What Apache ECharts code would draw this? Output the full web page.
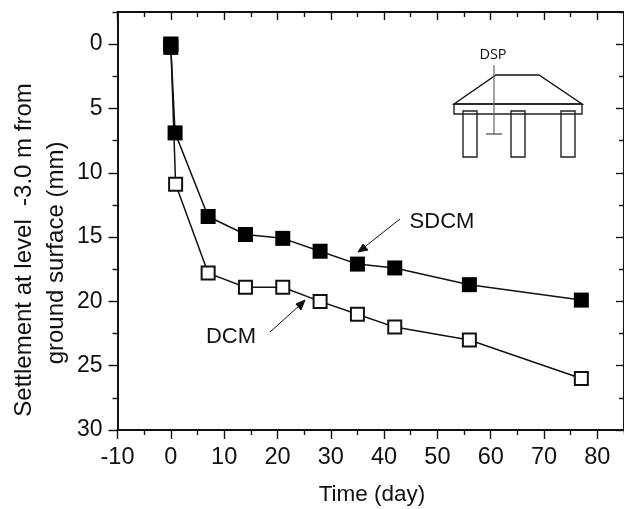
<!DOCTYPE html>
<html><head><meta charset="utf-8">
<style>html,body{margin:0;padding:0;background:#fff}#c{width:624px;height:509px}</style>
<script src="https://cdn.jsdelivr.net/npm/echarts@6/dist/echarts.min.js"></script>
</head><body><div id="c"></div>
<script>
const sdcmTime = [0, 0, 0.8, 7, 14, 21, 28, 35, 42, 56, 77];
const sdcmSettlement = [0, 0.25, 6.9, 13.4, 14.8, 15.1, 16.1, 17.1, 17.4, 18.7, 19.9];
const dcmTime = [0, 0.9, 7, 14, 21, 28, 35, 42, 56, 77];
const dcmSettlement = [0, 10.9, 17.8, 18.9, 18.9, 20, 21, 22, 23, 26];
const xMajorTicks = [-10, 0, 10, 20, 30, 40, 50, 60, 70, 80];
const xMinorTicks = [-5, 5, 15, 25, 35, 45, 55, 65, 75, 85];
const yMajorTicks = [0, 5, 10, 15, 20, 25, 30];
const yMinorTicks = [-2.5, 2.5, 7.5, 12.5, 17.5, 22.5, 27.5];
const xTitle = 'Time (day)';
const yTitleLines = ['Settlement at level  -3.0 m from', 'ground surface (mm)'];

const FONT = '"Liberation Sans", Arial, sans-serif';
const INK = '#111';
const chart = echarts.init(document.getElementById('c'), null, {renderer: 'canvas'});

const xRange = {type: 'value', min: -10, max: 85, interval: 5, splitLine: {show: false}};
const yRange = {type: 'value', min: -2.5, max: 30, interval: 2.5, inverse: true, splitLine: {show: false}};
const axisLine = {show: true, onZero: false, lineStyle: {color: INK, width: 1.8}};

function xAxisOf(position, ticks, length, inside, labels) {
  return Object.assign({}, xRange, {
    position, axisLine,
    axisTick: {show: true, inside, length, customValues: ticks, lineStyle: {color: INK, width: 1.4}},
    axisLabel: labels
      ? {show: true, customValues: ticks, margin: 16, fontSize: 23.5, fontFamily: FONT, color: INK, hideOverlap: false}
      : {show: false}
  });
}
function yAxisOf(position, ticks, length, inside, labels) {
  return Object.assign({}, yRange, {
    position, axisLine,
    axisTick: {show: true, inside, length, customValues: ticks, lineStyle: {color: INK, width: 1.4}},
    axisLabel: labels
      ? {show: true, customValues: ticks, margin: 15, fontSize: 23, fontFamily: FONT, color: INK, hideOverlap: false}
      : {show: false}
  });
}

function pairs(xs, ys) { return xs.map((x, i) => [x, ys[i]]); }

const txt = (x, y, text, size, extra, rotation) => ({
  type: 'text', x, y, rotation: rotation || 0, silent: true,
  style: Object.assign({text, fontSize: size, fontFamily: FONT, fill: INK, align: 'center', verticalAlign: 'middle'}, extra || {})
});
const seg = (x1, y1, x2, y2, w, color) => ({
  type: 'line', silent: true,
  shape: {x1, y1, x2, y2}, style: {stroke: color || INK, lineWidth: w || 1}
});
const poly = (points, w, fill) => ({
  type: 'polygon', silent: true, shape: {points},
  style: {stroke: INK, lineWidth: w || 1, fill: fill || 'none'}
});
const box = (x, y, width, height) => ({
  type: 'rect', silent: true, shape: {x, y, width, height},
  style: {stroke: '#222', lineWidth: 1.4, fill: 'none'}
});

chart.setOption({
  animation: false,
  backgroundColor: '#fff',
  grid: {left: 117.5, top: 12, width: 508, height: 418, containLabel: false},
  xAxis: [
    xAxisOf('bottom', xMajorTicks, 9, false, true),
    xAxisOf('bottom', xMinorTicks, 5, false, false),
    xAxisOf('top', xMajorTicks, 8, true, false),
    xAxisOf('top', xMinorTicks, 5, true, false)
  ],
  yAxis: [
    yAxisOf('left', yMajorTicks, 9, false, true),
    yAxisOf('left', yMinorTicks, 5, false, false),
    yAxisOf('right', yMajorTicks, 8, true, false),
    yAxisOf('right', yMinorTicks, 5, true, false)
  ],
  series: [
    {name: 'DCM', type: 'line', data: pairs(dcmTime, dcmSettlement), symbol: 'rect', symbolSize: 13,
     showAllSymbol: true, lineStyle: {color: INK, width: 1.5},
     itemStyle: {color: '#fff', borderColor: INK, borderWidth: 2}},
    {name: 'SDCM', type: 'line', data: pairs(sdcmTime, sdcmSettlement), symbol: 'rect', symbolSize: 15,
     showAllSymbol: true, lineStyle: {color: INK, width: 1.5},
     itemStyle: {color: '#000', borderWidth: 0}}
  ],
  graphic: [
    txt(372, 495, xTitle, 22.5),
    txt(24, 250, yTitleLines[0], 24, null, Math.PI / 2),
    txt(56, 253, yTitleLines[1], 24, null, Math.PI / 2),
    txt(442, 222, 'SDCM', 22),
    txt(231, 337, 'DCM', 22),
    seg(400, 219, 362, 249, 1),
    poly([[358, 252], [363, 244], [368, 250]], 1, INK),
    seg(270, 332, 300, 305, 1),
    poly([[305, 300], [296, 304], [301, 310]], 1, INK),
    // Inset pile-cap sketch
    poly([[454, 104], [496, 75], [539, 75], [582, 104]], 1.4),
    box(454, 104, 128, 10),
    box(463, 111, 14, 46),
    box(511, 111, 14, 46),
    box(561, 111, 14, 46),
    seg(494, 65, 494, 134, 1.2, '#666'),
    seg(486, 134, 502, 134, 1.2, '#444'),
    txt(493, 55, 'DSP', 14.5, {fontFamily: '"Open Sans", sans-serif'})
  ]
});
</script></body></html>
